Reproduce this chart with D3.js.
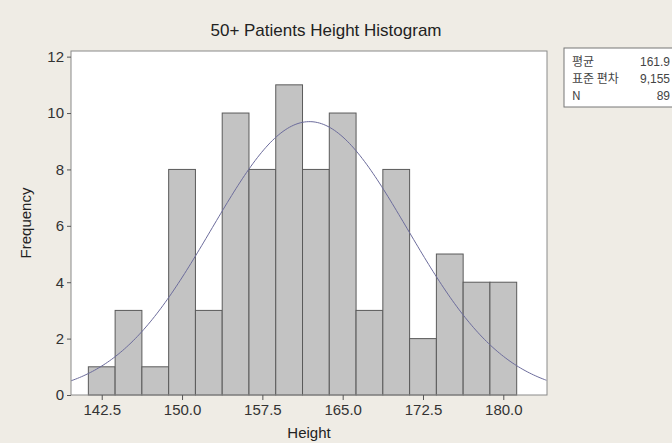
<!DOCTYPE html>
<html>
<head>
<meta charset="utf-8">
<script src="https://cdn.jsdelivr.net/npm/d3@7"></script>
<style>
body { margin: 0; background: #efece5; }
</style>
</head>
<body>
<div id="wrapper"></div>
<script>
// histogram data
const binCenters = [142.5, 145, 147.5, 150, 152.5, 155, 157.5, 160, 162.5, 165, 167.5, 170, 172.5, 175, 177.5, 180]
const counts = [1, 3, 1, 8, 3, 10, 8, 11, 8, 10, 3, 8, 2, 5, 4, 4]
const xTicks = [142.5, 150, 157.5, 165, 172.5, 180]
const yTicks = [0, 2, 4, 6, 8, 10, 12]
const statLabels = ["평균", "표준 편차", "N"]
const statValues = ["161.9", "9,155", "89"]
const mean = 161.9, sd = 9.155, n = 89, binWidth = 2.5

window.addEventListener("load", paint)

function paint() {
    const dims = {
        width: 672, height: 443,
        left: 71, right: 547, top: 51, bottom: 395
    }
    const font = "'Liberation Sans', Arial, sans-serif"

    const svg = d3.select("#wrapper").append("svg")
        .attr("width", dims.width).attr("height", dims.height)
        .style("font-family", font)

    svg.append("rect").attr("width", dims.width).attr("height", dims.height).attr("fill", "#efece5")

    const x = d3.scaleLinear().domain([139.63, 184.08]).range([dims.left, dims.right])
    const y = d3.scaleLinear().domain([0, 12.2]).range([dims.bottom, dims.top])

    // plot area
    svg.append("rect")
        .attr("x", dims.left).attr("y", dims.top)
        .attr("width", dims.right - dims.left).attr("height", dims.bottom - dims.top)
        .attr("fill", "#ffffff")

    // bars
    svg.append("g").selectAll("rect").data(binCenters).join("rect")
        .attr("x", d => x(d - binWidth / 2))
        .attr("y", (d, i) => y(counts[i]))
        .attr("width", d => x(d + binWidth / 2) - x(d - binWidth / 2))
        .attr("height", (d, i) => y(0) - y(counts[i]))
        .attr("fill", "#c3c3c3")
        .attr("stroke", "#5a5a5a").attr("stroke-width", 1)

    // fitted normal curve (from the mean / sd in the stats box)
    const dens = v => n * binWidth / (sd * Math.sqrt(2 * Math.PI)) * Math.exp(-0.5 * ((v - mean) / sd) ** 2)
    const xs = d3.range(x.domain()[0], x.domain()[1] + 0.01, 0.2)
    svg.append("path")
        .datum(xs)
        .attr("d", d3.line().x(d => x(d)).y(d => y(dens(d))).curve(d3.curveBasis))
        .attr("fill", "none").attr("stroke", "#6c6c9c").attr("stroke-width", 1)

    // frame
    svg.append("rect")
        .attr("x", dims.left).attr("y", dims.top)
        .attr("width", dims.right - dims.left).attr("height", dims.bottom - dims.top)
        .attr("fill", "none").attr("stroke", "#8a8a8a").attr("stroke-width", 1)

    // axes
    const xAxis = svg.append("g").attr("transform", `translate(0,${dims.bottom})`)
        .call(d3.axisBottom(x).tickValues(xTicks).tickFormat(d3.format(".1f")).tickSize(5).tickPadding(4))
    const yAxis = svg.append("g").attr("transform", `translate(${dims.left},0)`)
        .call(d3.axisLeft(y).tickValues(yTicks).tickSize(4).tickPadding(3))
    for (const ax of [xAxis, yAxis]) {
        ax.select(".domain").remove()
        ax.selectAll("line").attr("stroke", "#555")
        ax.selectAll("text").attr("fill", "#333").style("font-size", "15px").style("font-family", font)
    }

    // labels
    svg.append("text").attr("x", 326).attr("y", 36).attr("text-anchor", "middle")
        .style("font-size", "17px").attr("fill", "#222").text("50+ Patients Height Histogram")
    svg.append("text").attr("x", 309).attr("y", 438).attr("text-anchor", "middle")
        .style("font-size", "15px").attr("fill", "#222").text("Height")
    svg.append("text").attr("transform", "translate(31,223) rotate(-90)").attr("text-anchor", "middle")
        .style("font-size", "15px").attr("fill", "#222").text("Frequency")

    // stats box
    const box = svg.append("g").attr("transform", "translate(564,48)")
    box.append("rect").attr("width", 130).attr("height", 59)
        .attr("fill", "#ffffff").attr("stroke", "#777")
    statLabels.forEach((s, i) => {
        box.append("text").attr("x", 8).attr("y", 18 + i * 17)
            .style("font-family", "'Noto Sans CJK KR', sans-serif").style("font-size", "12px")
            .attr("fill", "#444").text(s)
        box.append("text").attr("x", 106).attr("y", 18 + i * 17).attr("text-anchor", "end")
            .style("font-size", "12px").attr("fill", "#444").text(statValues[i])
    })
}
</script>
</body>
</html>
